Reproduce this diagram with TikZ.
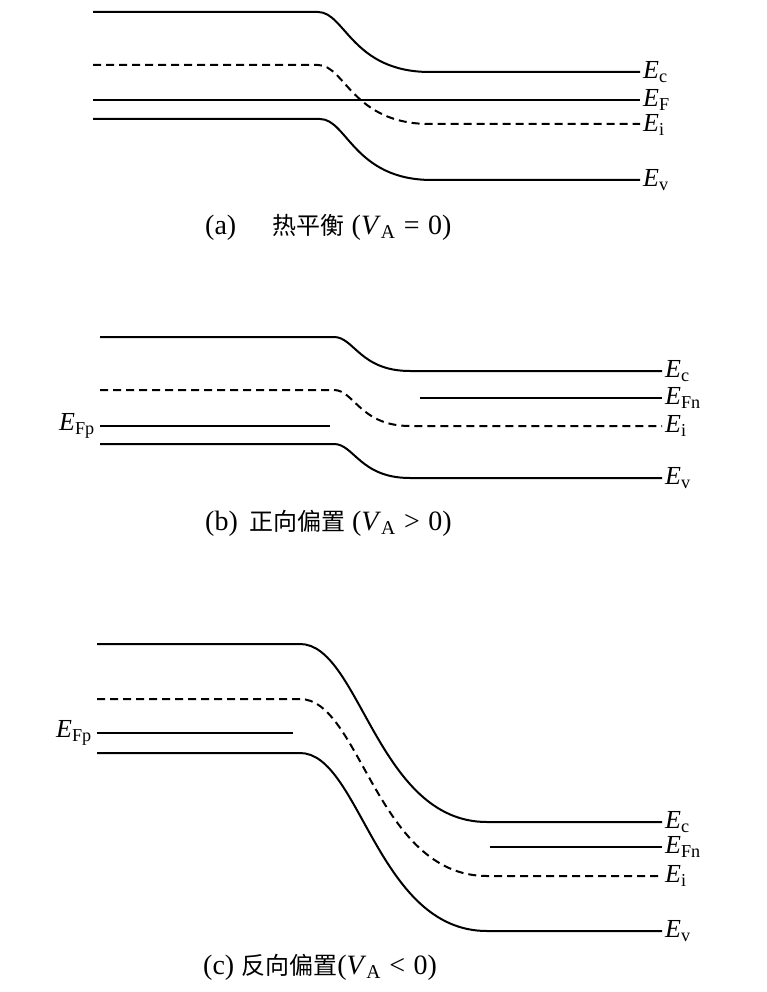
\documentclass[tikz,border=0pt]{standalone}
\usepackage{fontspec}
\setmainfont{Liberation Serif}
\newfontfamily\cjk{Noto Sans CJK SC}
\usetikzlibrary{positioning}

\tikzset{
  band/.style={line width=2pt},
  midgap/.style={line width=2pt, dash pattern=on 8pt off 5pt},
  fermi/.style={line width=1.6pt},
  lbl/.style={right, inner sep=3pt, font=\fontsize{26}{28}\selectfont},
  lblleft/.style={left, inner sep=3pt, font=\fontsize{26}{28}\selectfont},
  caption/.style={right, inner sep=0pt, font=\fontsize{28}{30}\selectfont}
}
\newcommand{\En}[1]{\textit{E}\textsubscript{#1}}
\newcommand{\Han}[1]{{\cjk\fontsize{24}{26}\selectfont #1}}
\newcommand{\rel}[1]{\hspace{0.3em}#1\hspace{0.3em}}

\begin{document}
\begin{tikzpicture}[x=1pt, y=-1pt]
        \useasboundingbox (0,0) rectangle (766,992);
        % (a) equilibrium
        \draw [band] (93,12) -- (318,12) .. controls (345,12) and (352,72) .. (430,72) -- (640,72);
        \draw [midgap] (93,65) -- (318,65) .. controls (345,65) and (352,124) .. (430,124) -- (640,124);
        \draw [fermi] (93,100) -- (640,100);
        \draw [band] (93,119) -- (320,119) .. controls (347,119) and (354,180) .. (432,180) -- (640,180);
        \node [lbl] (ecA) at (640,72) {\En{c}};
        \node [lbl] (efA) at (640,100) {\En{F}};
        \node [lbl] (eiA) at (640,125) {\En{i}};
        \node [lbl] (evA) at (640,180) {\En{v}};
        \node [caption] (capA) at (205,227) {(a)\hspace{1.3em}\Han{热平衡} (\textit{V}\textsubscript{A}\rel{=}0)};
        % (b) forward bias
        \draw [band] (100,337) -- (334,337) .. controls (354,337) and (360,371) .. (410,371) -- (662,371);
        \draw [fermi] (420,398) -- (662,398);
        \draw [midgap] (100,390) -- (334,390) .. controls (354,390) and (360,426) .. (410,426) -- (662,426);
        \draw [band] (100,426) -- (330,426);
        \draw [band] (100,444) -- (334,444) .. controls (354,444) and (360,478) .. (410,478) -- (662,478);
        \node [lbl] (ecB) at (662,371) {\En{c}};
        \node [lbl] (efnB) at (662,398) {\En{Fn}};
        \node [lbl] (eiB) at (662,426) {\En{i}};
        \node [lbl] (evB) at (662,478) {\En{v}};
        \node [lblleft] (efpB) at (98,426) {\En{Fp}};
        \node [caption] (capB) at (205,523) {(b)\hspace{0.4em}\Han{正向偏置} (\textit{V}\textsubscript{A}\rel{>}0)};
        % (c) reverse bias
        \draw [band] (97,644) -- (300,644) .. controls (360,644) and (377,822) .. (487,822) -- (662,822);
        \draw [fermi] (490,847) -- (662,847);
        \draw [midgap] (97,699) -- (300,699) .. controls (360,699) and (377,876) .. (487,876) -- (662,876);
        \draw [band] (97,733) -- (293,733);
        \draw [band] (97,753) -- (300,753) .. controls (360,753) and (377,931) .. (487,931) -- (662,931);
        \node [lbl] (ecC) at (662,822) {\En{c}};
        \node [lbl] (efnC) at (662,847) {\En{Fn}};
        \node [lbl] (eiC) at (662,876) {\En{i}};
        \node [lbl] (evC) at (662,931) {\En{v}};
        \node [lblleft] (efpC) at (95,733) {\En{Fp}};
        \node [caption] (capC) at (203,967) {(c)\hspace{0.25em}\Han{反向偏置}(\textit{V}\textsubscript{A}\rel{<}0)};
\end{tikzpicture}
\end{document}
